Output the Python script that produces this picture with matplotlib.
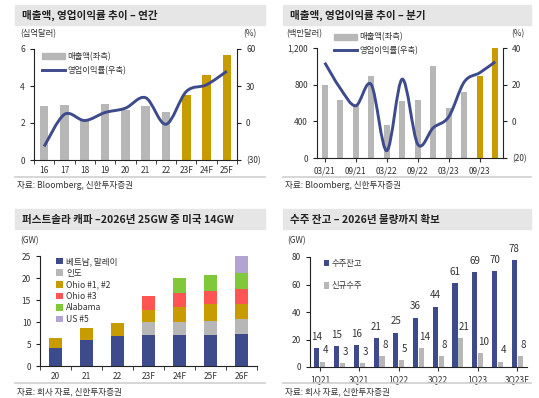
import numpy as np
import matplotlib
matplotlib.use("Agg")
import matplotlib.pyplot as plt
from matplotlib.patches import Patch, PathPatch, Rectangle
from matplotlib.lines import Line2D
from matplotlib.path import Path

plt.rcParams['font.family'] = ['Noto Sans CJK KR', 'DejaVu Sans']
plt.rcParams['axes.unicode_minus'] = False

W, H = 539, 398

NAVY = '#3d4b8c'
GREY = '#b7b7b7'
GOLD = '#c89b00'
RED = '#ff5454'
GREEN = '#7ec83a'
LAV = '#b3a3d3'
TXT = '#333333'

# --- panel 1: annual ---
years = ['16', '17', '18', '19', '20', '21', '22', '23F', '24F', '25F']
sales_y = [2.9, 2.95, 2.15, 3.05, 2.7, 2.9, 2.6, 3.5, 4.6, 5.7]
margin_y = [-19, 7, 2, 8.5, 12, 20.5, -1, 25.5, 31, 42]
forecast_y = [False] * 7 + [True] * 3

# --- panel 2: quarterly ---
quarters = ['03/21', '06/21', '09/21', '12/21', '03/22', '06/22',
            '09/22', '12/22', '03/23', '06/23', '09/23', '12/23']
sales_q = [800, 630, 570, 900, 365, 620, 630, 1000, 550, 720, 900, 1200]
margin_q = [32, 18, 8.5, 20, -16, 23, -12.5, -3.5, 2.5, 21.5, 26.5, 32.5]
forecast_q = [False] * 10 + [True] * 2

# --- panel 3: capacity ---
cap_years = ['20', '21', '22', '23F', '24F', '25F', '26F']
cap_names = ['베트남, 말레이', '인도', 'Ohio #1, #2', 'Ohio #3', 'Alabama', 'US #5']
cap_vals = [
    [4.0, 6.0, 6.8, 7.0, 7.0, 7.0, 7.2],
    [0, 0, 0, 3.0, 3.0, 3.3, 3.4],
    [2.3, 2.6, 2.9, 2.8, 3.5, 3.7, 3.6],
    [0, 0, 0, 3.2, 3.0, 3.1, 3.3],
    [0, 0, 0, 0, 3.5, 3.5, 3.6],
    [0, 0, 0, 0, 0, 0, 3.8],
]
cap_colors = [NAVY, GREY, GOLD, RED, GREEN, LAV]

# --- panel 4: backlog ---
bq = ['1Q21', '2Q21', '3Q21', '4Q21', '1Q22', '2Q22', '3Q22', '4Q22',
      '1Q23', '2Q23', '3Q23F']
backlog = [14, 15, 16, 21, 25, 36, 44, 61, 69, 70, 78]
new_orders = [4, 3, 3, 8, 5, 14, 8, 21, 10, 4, 8]


def rect(x0, y0, x1, y1):
    return [x0 / W, 1 - y1 / H, (x1 - x0) / W, (y1 - y0) / H]


def paren(v):
    v = int(v)
    return '(%d)' % -v if v < 0 else '%d' % v


def smooth_path(x, y):
    # catmull-rom style bezier through the points (Excel "smoothed line")
    x = np.asarray(x, float)
    y = np.asarray(y, float)
    n = len(x)
    verts = [(x[0], y[0])]
    codes = [Path.MOVETO]
    for i in range(n - 1):
        i0 = max(i - 1, 0)
        i3 = min(i + 2, n - 1)
        c1 = (x[i] + (x[i + 1] - x[i0]) / 6, y[i] + (y[i + 1] - y[i0]) / 6)
        c2 = (x[i + 1] - (x[i3] - x[i]) / 6, y[i + 1] - (y[i3] - y[i]) / 6)
        verts += [c1, c2, (x[i + 1], y[i + 1])]
        codes += [Path.CURVE4] * 3
    return Path(verts, codes)


def frame(fig, x0, y0, x1, title, src, ysep):
    fig.patches.append(Rectangle((x0 / W, 1 - (y0 + 20) / H), (x1 - x0) / W, 20 / H,
                                 transform=fig.transFigure, color='#e6e6e6', zorder=0))
    fig.text((x0 + 7) / W, 1 - (y0 + 10.5) / H, title, fontsize=7.6, fontweight='bold',
             color='#222222', va='center', ha='left')
    fig.add_artist(Line2D([x0 / W, x1 / W], [1 - ysep / H, 1 - ysep / H],
                          transform=fig.transFigure, color='#cfcfcf', lw=1.2))
    fig.text((x0 + 2) / W, 1 - (ysep + 9) / H, src, fontsize=6.2, color='#333333',
             va='center', ha='left')


def style(ax, n, labels_at=None, labels=None, boundary_ticks=True):
    for s in ['top', 'right']:
        ax.spines[s].set_visible(False)
    ax.spines['left'].set_color('#222222')
    ax.spines['bottom'].set_color('#222222')
    ax.set_xlim(-0.5, n - 0.5)
    if labels_at is None:
        labels_at = range(n)
    ax.set_xticks(list(labels_at))
    ax.set_xticklabels(labels)
    if boundary_ticks:
        ax.set_xticks(np.arange(-0.5, n, 1), minor=True)
        ax.tick_params(axis='x', which='major', length=0, pad=4)
        ax.tick_params(axis='x', which='minor', length=3, direction='out', color='#222222')
    else:
        ax.tick_params(axis='x', which='major', length=3, pad=3, color='#222222')
    ax.tick_params(axis='both', labelsize=6, colors=TXT)
    ax.tick_params(axis='y', length=3, direction='out', color='#222222')


fig = plt.figure(figsize=(W / 100, H / 100), dpi=100)

# ---------------- panel 1 ----------------
frame(fig, 15, 5, 265, '매출액, 영업이익률 추이 – 연간', '자료: Bloomberg, 신한투자증권', 177)
ax1 = fig.add_axes(rect(34, 49, 237, 160))
x = np.arange(len(years))
ax1.bar(x, sales_y, width=0.42, color=[GOLD if f else GREY for f in forecast_y], zorder=2)
style(ax1, len(years), labels=years)
ax1.set_ylim(0, 6)
ax1.set_yticks([0, 2, 4, 6])
ax1r = ax1.twinx()
ax1r.set_ylim(-30, 60)
ax1r.set_yticks([-30, 0, 30, 60])
ax1r.set_yticklabels([paren(v) for v in [-30, 0, 30, 60]])
ax1r.add_patch(PathPatch(smooth_path(x, margin_y), facecolor='none', edgecolor=NAVY,
                         lw=2.1, zorder=3))
for s in ['top', 'left', 'bottom']:
    ax1r.spines[s].set_visible(False)
ax1r.spines['right'].set_color('#222222')
ax1r.tick_params(axis='y', labelsize=6, colors=TXT, length=3, color='#222222')
ax1r.legend(handles=[Patch(color=GREY, label='매출액(좌측)'),
                     Line2D([], [], color=NAVY, lw=2.1, label='영업이익률(우축)')],
            loc='upper left', bbox_to_anchor=(0.0, 1.04), frameon=False, fontsize=6,
            handlelength=2.8, handleheight=0.7, labelspacing=0.55, handletextpad=0.3,
            labelcolor=TXT)
fig.text(20 / W, 1 - 34 / H, '(십억달러)', fontsize=6, color=TXT, va='center')
fig.text(250 / W, 1 - 34 / H, '(%)', fontsize=6, color=TXT, va='center', ha='center')

# ---------------- panel 2 ----------------
frame(fig, 283, 5, 531, '매출액, 영업이익률 추이 – 분기', '자료: Bloomberg, 신한투자증권', 177)
ax2 = fig.add_axes(rect(317, 48, 503, 158))
x = np.arange(len(quarters))
ax2.bar(x, sales_q, width=0.36, color=[GOLD if f else GREY for f in forecast_q], zorder=2)
style(ax2, len(quarters), labels_at=range(0, 12, 2), labels=quarters[::2],
      boundary_ticks=False)
ax2.set_ylim(0, 1200)
ax2.set_yticks([0, 400, 800, 1200])
ax2.set_yticklabels(['0', '400', '800', '1,200'])
ax2r = ax2.twinx()
ax2r.set_ylim(-20, 40)
ax2r.set_yticks([-20, 0, 20, 40])
ax2r.set_yticklabels([paren(v) for v in [-20, 0, 20, 40]])
ax2r.add_patch(PathPatch(smooth_path(x, margin_q), facecolor='none', edgecolor=NAVY,
                         lw=2.1, zorder=3))
for s in ['top', 'left', 'bottom']:
    ax2r.spines[s].set_visible(False)
ax2r.spines['right'].set_color('#222222')
ax2r.tick_params(axis='y', labelsize=6, colors=TXT, length=3, color='#222222')
fig.legend(handles=[Patch(color=GREY, label='매출액(좌측)'),
                    Line2D([], [], color=NAVY, lw=2.1, label='영업이익률(우축)')],
           loc='upper left', bbox_to_anchor=(326 / W, 1 - 25 / H), frameon=False,
           fontsize=6, handlelength=2.8, handleheight=0.7, labelspacing=0.5,
           handletextpad=0.3, labelcolor=TXT)
fig.text(286 / W, 1 - 34 / H, '(백만달러)', fontsize=6, color=TXT, va='center')
fig.text(518 / W, 1 - 34 / H, '(%)', fontsize=6, color=TXT, va='center', ha='center')

# ---------------- panel 3 ----------------
frame(fig, 15, 209, 265, '퍼스트솔라 캐파 –2026년 25GW 중 미국 14GW', '자료: 회사 자료, 신한투자증권', 383)
ax3 = fig.add_axes(rect(40, 256, 257, 366))
x = np.arange(len(cap_years))
bottom = np.zeros(len(cap_years))
for name, vals, col in zip(cap_names, cap_vals, cap_colors):
    ax3.bar(x, vals, bottom=bottom, width=0.43, color=col, label=name, zorder=2)
    bottom += np.array(vals)
style(ax3, len(cap_years), labels=cap_years)
ax3.set_ylim(0, 25)
ax3.set_yticks([0, 5, 10, 15, 20, 25])
ax3.legend(loc='upper left', bbox_to_anchor=(0.04, 1.06), frameon=False, fontsize=6.2,
           handlelength=0.8, handleheight=0.8, labelspacing=0.3, handletextpad=0.3,
           labelcolor=TXT)
fig.text(20 / W, 1 - 241 / H, '(GW)', fontsize=6, color=TXT, va='center')

# ---------------- panel 4 ----------------
frame(fig, 283, 209, 531, '수주 잔고 – 2026년 물량까지 확보', '자료: 회사 자료, 신한투자증권', 383)
ax4 = fig.add_axes(rect(310, 257, 527, 367))
x = np.arange(len(bq))
ax4.bar(x - 0.15, backlog, width=0.26, color=NAVY, label='수주잔고', zorder=2)
ax4.bar(x + 0.15, new_orders, width=0.26, color=GREY, label='신규수주', zorder=2)
for bx, v in zip(x, backlog):
    ax4.text(bx - 0.15, v + 4.5, '%d' % v, ha='center', va='bottom', fontsize=7, color=TXT)
for bx, v in zip(x, new_orders):
    ax4.text(bx + 0.3, v + 4.5, '%d' % v, ha='center', va='bottom', fontsize=7, color=TXT)
style(ax4, len(bq), labels_at=range(0, 11, 2), labels=bq[::2], boundary_ticks=False)
ax4.set_ylim(0, 80)
ax4.set_yticks([0, 20, 40, 60, 80])
ax4.legend(loc='upper left', bbox_to_anchor=(0.03, 1.05), frameon=False, fontsize=6,
           handlelength=0.6, handleheight=0.8, labelspacing=1.6, handletextpad=0.3,
           labelcolor=TXT)
fig.text(287 / W, 1 - 241 / H, '(GW)', fontsize=6, color=TXT, va='center')

fig.savefig('out.png', dpi=100)
